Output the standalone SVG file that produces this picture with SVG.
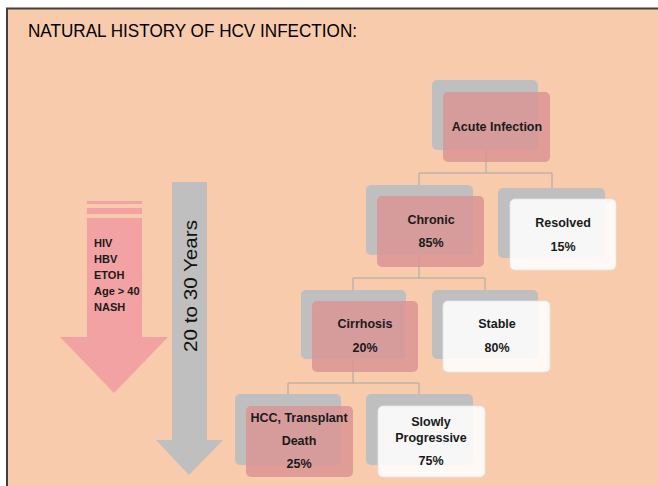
<svg xmlns="http://www.w3.org/2000/svg" width="658" height="486" viewBox="0 0 658 486">
<style>
.bg{fill:#F8CBAD;stroke:#404040;stroke-width:2}
.back{fill:#BFBFBF}
.pink{fill:#DA9292;fill-opacity:0.82}
.white{fill:#FFFFFF;fill-opacity:0.88;stroke:#E6E6E6;stroke-width:0.8}
.lbl{font-family:"Liberation Sans",Arial,sans-serif;font-weight:bold;font-size:12.5px;fill:#1A1A1A;text-anchor:middle}
.risk{font-family:"Liberation Sans",Arial,sans-serif;font-weight:bold;font-size:11px;fill:#1A1A1A}
.conn{fill:none;stroke:#A6A6A6;stroke-width:1}
</style>
<rect class="bg" x="7" y="8.5" width="660" height="490"/>
<text x="28" y="37" font-family="'Liberation Sans',Arial,sans-serif" font-size="18.5" fill="#000" textLength="329" lengthAdjust="spacingAndGlyphs">NATURAL HISTORY OF HCV INFECTION:</text>

<g id="risk-arrow">
<rect x="87" y="201" width="55" height="3" fill="#F2A2A2"/>
<rect x="87" y="208" width="55" height="6" fill="#F2A2A2"/>
<polygon points="87,218 142,218 142,337 168,337 114,393 60,337 87,337" fill="#F2A2A2"/>
<text class="risk" x="94" y="247">HIV</text>
<text class="risk" x="94" y="263">HBV</text>
<text class="risk" x="94" y="279">ETOH</text>
<text class="risk" x="94" y="295">Age &gt; 40</text>
<text class="risk" x="94" y="311">NASH</text>
</g>

<g id="time-arrow">
<polygon points="172,182 207,182 207,440 223,440 189,475 156,440 172,440" fill="#BFBFBF"/>
<text transform="translate(197,286) rotate(-90)" font-family="'Liberation Sans',Arial,sans-serif" font-size="17.5" fill="#111" text-anchor="middle" textLength="132" lengthAdjust="spacingAndGlyphs">20 to 30 Years</text>
</g>

<g id="connectors">
<path class="conn" d="M486,150 V173 M419,173 H552 M419,173 V186 M552,173 V188"/>
<path class="conn" d="M419,255 V278 M353,278 H485 M353,278 V290 M485,278 V290"/>
<path class="conn" d="M353,359 V383 M288,383 H419 M288,383 V394 M419,383 V394"/>
</g>

<g id="acute">
<rect class="back" x="432" y="80" width="106" height="70" rx="5"/>
<rect class="pink" x="443" y="92" width="107" height="70" rx="5"/>
<text class="lbl" x="497" y="131">Acute Infection</text>
</g>

<g id="chronic">
<rect class="back" x="366" y="185" width="107" height="70" rx="5"/>
<rect class="pink" x="377" y="196" width="107" height="71" rx="5"/>
<text class="lbl" x="431" y="224">Chronic</text>
<text class="lbl" x="431" y="247">85%</text>
</g>

<g id="resolved">
<rect class="back" x="498" y="188" width="107" height="70" rx="5"/>
<rect class="white" x="510" y="199" width="106" height="71" rx="5"/>
<text class="lbl" x="563" y="227">Resolved</text>
<text class="lbl" x="563" y="251">15%</text>
</g>

<g id="cirrhosis">
<rect class="back" x="301" y="290" width="105" height="69" rx="5"/>
<rect class="pink" x="312" y="301" width="106" height="71" rx="5"/>
<text class="lbl" x="365" y="328">Cirrhosis</text>
<text class="lbl" x="365" y="352">20%</text>
</g>

<g id="stable">
<rect class="back" x="432" y="290" width="106" height="69" rx="5"/>
<rect class="white" x="443" y="301" width="107" height="71" rx="5"/>
<text class="lbl" x="497" y="328">Stable</text>
<text class="lbl" x="497" y="352">80%</text>
</g>

<g id="hcc">
<rect class="back" x="235" y="394" width="106" height="71" rx="5"/>
<rect class="pink" x="246" y="406" width="107" height="71" rx="5"/>
<text class="lbl" x="299" y="422">HCC, Transplant</text>
<text class="lbl" x="299" y="445">Death</text>
<text class="lbl" x="299" y="468">25%</text>
</g>

<g id="slowly">
<rect class="back" x="366" y="394" width="107" height="71" rx="5"/>
<rect class="white" x="378" y="406" width="107" height="71" rx="5"/>
<text class="lbl" x="431" y="426">Slowly</text>
<text class="lbl" x="431" y="442">Progressive</text>
<text class="lbl" x="431" y="465">75%</text>
</g>
</svg>
